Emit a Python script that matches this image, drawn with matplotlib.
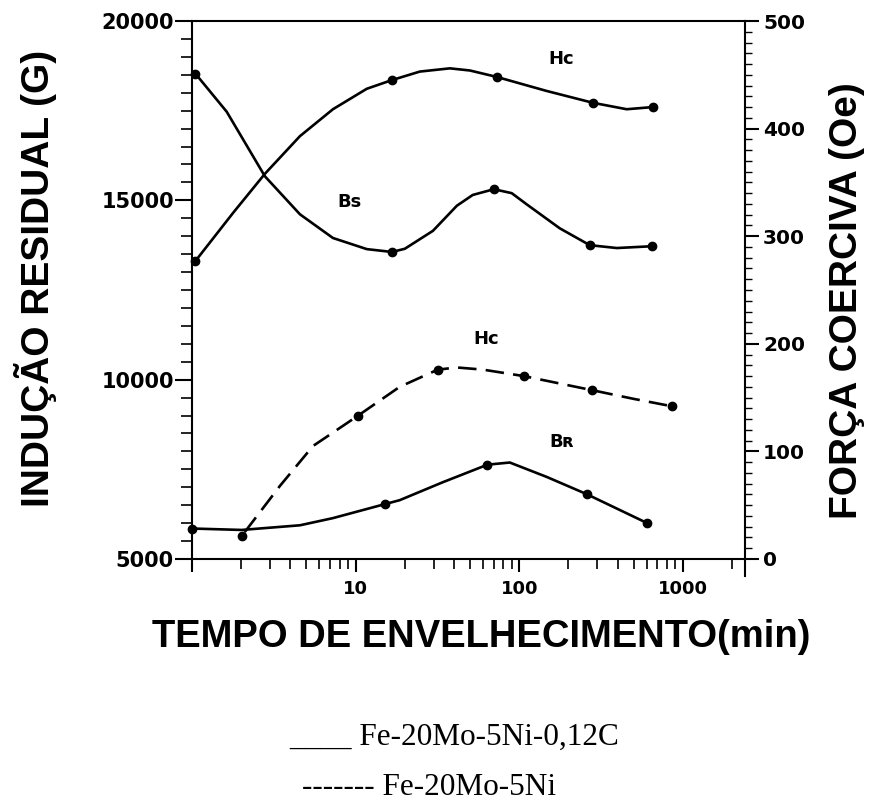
import matplotlib
matplotlib.use('Agg')
import matplotlib.pyplot as plt
from matplotlib.ticker import MultipleLocator, LogLocator, NullFormatter

# ---------------- data ----------------
# aging time (min)
bs_t = [1.05, 16.7, 70, 270, 646]
bs_val = [18530, 13560, 15310, 13750, 13720]          # Bs (G), left axis
bs_curve_t = [1.05, 1.63, 2.79, 4.57, 7.27, 11.7, 16.7, 20, 29.7, 41.6, 52, 70, 90, 111, 177, 270, 395, 646]
bs_curve = [18530, 17470, 15670, 14610, 13950, 13640, 13560, 13650, 14150, 14850, 15150, 15310, 15200, 14890, 14220, 13750, 13670, 13720]

hc_t = [1.05, 16.6, 73, 282, 655]
hc_val = [277, 445, 448, 424, 420]                     # Hc (Oe), right axis, Fe-20Mo-5Ni-0,12C
hc_curve_t = [1.05, 1.79, 2.79, 4.57, 7.27, 11.7, 16.6, 24.7, 37.7, 50, 73, 147, 282, 454, 655]
hc_curve = [277, 322, 358, 393, 418, 437, 445, 453, 456, 454, 448, 435, 424, 418, 420]

hcd_t = [2.02, 10.3, 31.8, 106.6, 277, 855]
hcd_val = [21, 133, 176, 170, 157, 142]                # Hc (Oe), right axis, Fe-20Mo-5Ni
hcd_curve_t = [2.1, 3.45, 5.49, 10.3, 18.6, 31.8, 41.6, 60, 106.6, 277, 494, 855]
hcd_curve = [25, 68, 105, 133, 160, 176, 178, 176, 170, 157, 149, 142]

br_t = [1.0, 15.1, 64, 258, 600]
br_val = [5850, 6530, 7630, 6810, 6010]                # Br (G), left axis
br_curve_t = [1.0, 2.01, 4.57, 7.27, 15.1, 18.6, 34.1, 64, 87.6, 147, 258, 600]
br_curve = [5850, 5810, 5940, 6140, 6530, 6640, 7140, 7630, 7690, 7290, 6810, 6010]

x_ticks = [1, 10, 100, 1000]
x_ticklabels = ['', '10', '100', '1000']

# ---------------- figure ----------------
plt.rcParams['font.family'] = ['DejaVu Sans']
plt.rcParams['font.weight'] = 'bold'

W, H = 870, 805
fig = plt.figure(figsize=(W / 100, H / 100), dpi=100)
ax = fig.add_axes([192 / W, 1 - 559 / H, (745 - 192) / W, (559 - 21) / H])
ax.set_xscale('log')
ax.set_xlim(1, 2400)
ax.set_ylim(5000, 20000)
ax2 = ax.twinx()
ax2.set_ylim(0, 500)

lw = 1.9
ms = 6
ax.plot(bs_curve_t, bs_curve, color='black', lw=lw, solid_joinstyle='round', clip_on=False)
ax.plot(bs_t, bs_val, 'o', color='black', ms=ms, clip_on=False)
ax.plot(br_curve_t, br_curve, color='black', lw=lw, solid_joinstyle='round', clip_on=False)
ax.plot(br_t, br_val, 'o', color='black', ms=ms, clip_on=False)
ax2.plot(hc_curve_t, hc_curve, color='black', lw=lw, solid_joinstyle='round', clip_on=False)
ax2.plot(hc_t, hc_val, 'o', color='black', ms=ms, clip_on=False)
ax2.plot(hcd_curve_t, hcd_curve, color='black', lw=lw, dashes=(7, 3.5), clip_on=False)
ax2.plot(hcd_t, hcd_val, 'o', color='black', ms=ms, clip_on=False)

# spines
for s in ax.spines.values():
    s.set_linewidth(1.5)
ax.spines['right'].set_visible(False)
for k in ['left', 'top', 'bottom']:
    ax2.spines[k].set_visible(False)
ax2.spines['right'].set_linewidth(1.5)
ax2.spines['right'].set_bounds(-16, 500)

# ticks
ax.yaxis.set_major_locator(MultipleLocator(5000))
ax.yaxis.set_minor_locator(MultipleLocator(500))
ax.tick_params(axis='y', which='major', length=12, width=1.5, direction='out', labelsize=15, pad=1)
ax.tick_params(axis='y', which='minor', length=8, width=1.2, direction='out')

ax.set_xticks(x_ticks)
ax.set_xticklabels(x_ticklabels)
ax.xaxis.set_minor_locator(LogLocator(base=10, subs=range(2, 10), numticks=20))
ax.xaxis.set_minor_formatter(NullFormatter())
ax.tick_params(axis='x', which='major', length=9, width=1.5, direction='out', labelsize=13, pad=6)
ax.tick_params(axis='x', which='minor', length=7, width=1.2, direction='out')

ax2.yaxis.set_major_locator(MultipleLocator(100))
ax2.yaxis.set_minor_locator(MultipleLocator(10))
ax2.tick_params(axis='y', which='major', length=10, width=1.5, direction='out', labelsize=14.5, pad=3)
ax2.tick_params(axis='y', which='minor', length=5, width=1.0, direction='out')

for lbl in ax.get_xticklabels() + ax.get_yticklabels() + ax2.get_yticklabels():
    lbl.set_fontweight('bold')

# curve annotations
def ftext(px, py, s, **kw):
    fig.text(px / W, 1 - py / H, s, **kw)

ann = dict(ha='center', va='center', fontsize=13, fontweight='bold', family='DejaVu Sans')
ftext(561, 59, 'Hc', **ann)
ftext(350, 202, 'Bs', **ann)
ftext(486, 339, 'Hc', **ann)
ftext(562, 442, 'Bʀ', **ann)

# axis titles
lab = dict(family='Liberation Sans', fontweight='bold', fontsize=28, ha='center', va='center')
ftext(36, 278, 'INDUÇÃO RESIDUAL (G)', rotation=90, **lab)
ftext(847, 301, 'FORÇA COERCIVA (Oe)', rotation=90, **lab)
lab2 = dict(lab)
lab2['fontsize'] = 27.5
ftext(481, 637, 'TEMPO DE ENVELHECIMENTO(min)', **lab2)

# legend text
leg = dict(family='Liberation Serif', fontweight='normal', fontsize=22.5, ha='left', va='baseline')
ftext(289, 745, '____ Fe-20Mo-5Ni-0,12C', **leg)
ftext(302, 795, '------- Fe-20Mo-5Ni', **leg)

fig.savefig('out.png', dpi=100)
